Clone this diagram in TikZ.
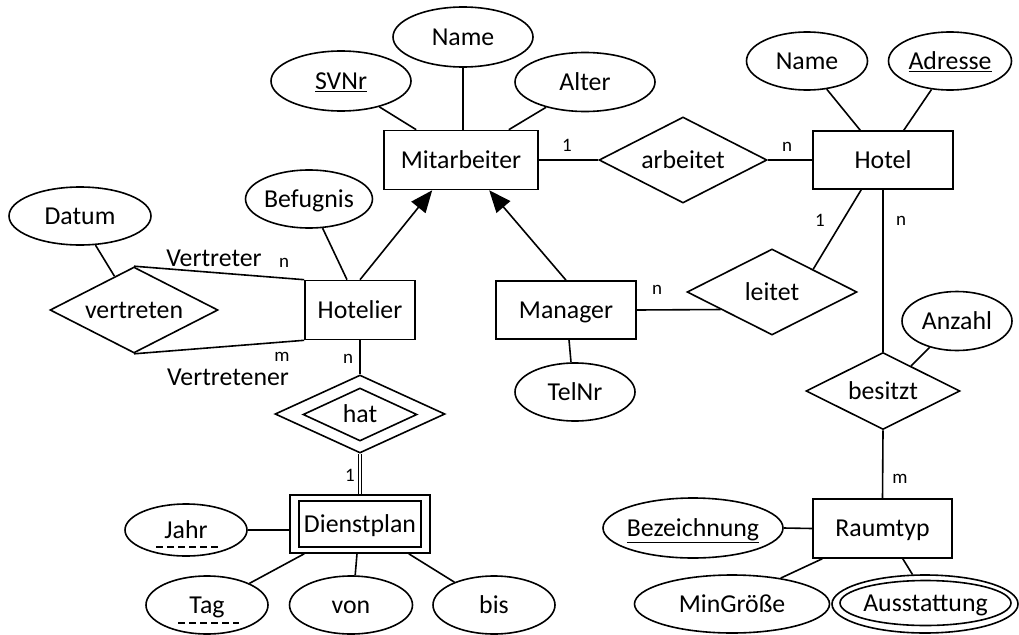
\documentclass[tikz,border=0pt]{standalone}
\usepackage{fontspec}
\setmainfont{Carlito}
\usetikzlibrary{shapes.geometric,arrows.meta,calc}
\begin{document}
\begin{tikzpicture}[x=1pt,y=-1pt,
  every node/.style={inner sep=0pt,font=\fontsize{25.8}{30}\selectfont},
  box/.style={text height=16.5pt,text depth=0pt},
  ent/.style={draw,rectangle,line width=1.6pt,box},
  attr/.style={draw,ellipse,line width=1.6pt,box},
  rel/.style={draw,diamond,aspect=2,line width=1.6pt,box},
  conn/.style={line width=1.6pt},
  isa/.style={line width=1.6pt,-{Triangle[length=22pt,width=18pt]}},
  card/.style={font=\fontsize{19}{22}\selectfont},
  dashul/.style={line width=1.4pt,dash pattern=on 7pt off 4pt}]
\useasboundingbox (0,0) rectangle (1019,634);

% entities
\node[ent,minimum width=154pt,minimum height=59pt] (mit) at (461,160) {Mitarbeiter};
\node[ent,minimum width=140pt,minimum height=58pt] (hotel) at (883,160) {Hotel};
\node[ent,minimum width=140pt,minimum height=58pt] (manager) at (566,310) {Manager};
\node[ent,minimum width=110pt,minimum height=59pt] (hotelier) at (360,310) {Hotelier};
\node[ent,minimum width=139pt,minimum height=59pt] (raum) at (882.5,528.5) {Raumtyp};
\node[ent,minimum width=140pt,minimum height=58pt] (dpout) at (360,524) {};
\node[ent,minimum width=122pt,minimum height=46pt] (dpin) at (360,524) {Dienstplan};

% relationships
\node[rel,minimum width=168pt,minimum height=86pt] (arb) at (683,160) {arbeitet};
\node[rel,minimum width=170pt,minimum height=86pt] (leitet) at (772,292) {leitet};
\node[rel,minimum width=154pt,minimum height=77pt] (bes) at (883,391) {besitzt};
\node[rel,minimum width=168pt,minimum height=86pt] (vert) at (134,310) {vertreten};
\node[rel,minimum width=170pt,minimum height=78pt] (hatout) at (360,414) {};
\node[rel,minimum width=114pt,minimum height=53pt] (hatin) at (360,414.5) {hat};

% attributes
\node[attr,minimum width=140pt,minimum height=60pt] (name1) at (463,37) {Name};
\node[attr,minimum width=140pt,minimum height=60pt] (svnr) at (341,81) {\underline{SVNr}};
\node[attr,minimum width=140pt,minimum height=59pt] (alter) at (585,82) {Alter};
\node[attr,minimum width=121pt,minimum height=58pt] (hname) at (807,61) {Name};
\node[attr,minimum width=123pt,minimum height=58pt] (adr) at (950,61) {\underline{Adresse}};
\node[attr,minimum width=110pt,minimum height=59pt] (anz) at (957,321) {Anzahl};
\node[attr,inner xsep=-4pt,minimum width=180pt,minimum height=60pt] (bez) at (693,528) {\underline{Bezeichnung}};
\node[attr,minimum width=195pt,minimum height=58pt] (ming) at (732,604) {MinGröße};
\node[attr,minimum width=186pt,minimum height=58pt] (ausout) at (925,604) {};
\node[attr,inner xsep=-3pt,minimum width=171pt,minimum height=45pt] (ausin) at (925.5,603) {Ausstattung};
\node[attr,minimum width=120pt,minimum height=58pt] (telnr) at (575,392) {TelNr};
\node[attr,minimum width=122pt,minimum height=58pt] (bef) at (309,199) {Befugnis};
\node[attr,minimum width=142pt,minimum height=58pt] (datum) at (80,216) {Datum};
\node[attr,minimum width=122pt,minimum height=52pt] (jahr) at (186,530) {Jahr};
\node[attr,minimum width=122pt,minimum height=58pt] (tag) at (207,605) {Tag};
\node[attr,minimum width=123pt,minimum height=58pt] (von) at (351,605) {von};
\node[attr,minimum width=122pt,minimum height=58pt] (bis) at (494,605) {bis};

% dashed (partial key) underlines
\draw[dashul] ($(jahr.center)+(-30,17)$) -- ++(62,0);
\draw[dashul] ($(tag.center)+(-29,18)$) -- ++(61,0);

% connectors
\draw[conn] (svnr.-34) -- ([xshift=33pt]mit.north west);
\draw[conn] (name1.south) -- (name1.south |- mit.north);
\draw[conn] (alter.-147) -- ([xshift=-30pt]mit.north east);
\draw[conn] (mit.east) -- (arb.west);
\draw[conn] (arb.east) -- (hotel.west);
\draw[conn] (hname.-55) -- ([xshift=48pt]hotel.north west);
\draw[conn] (adr.-123) -- ([xshift=-50pt]hotel.north east);
\draw[conn] ([xshift=49pt]hotel.south west) -- ($(leitet.north)!0.48!(leitet.east)$);
\draw[conn] (hotel.south) -- (bes.north);
\draw[conn] (anz.224) -- ($(bes.north)!0.36!(bes.east)$);
\draw[conn] (bes.south) -- (raum.north);
\draw[conn] (bez.east) -- (raum.west);
\draw[conn] (ming.28) -- ([xshift=10pt]raum.south west);
\draw[conn] (ausout.113) -- ([xshift=-50pt]raum.south east);
\draw[isa] (hotelier.north) -- ([xshift=49pt]mit.south west);
\draw[isa] (manager.north) -- ([xshift=106pt]mit.south west);
\draw[conn] (bef.-65) -- ([xshift=-13pt]hotelier.north);
\draw[conn] (datum.-62) -- ($(vert.west)!0.77!(vert.north)$);
\draw[conn] (vert.north) -- (hotelier.north west);
\draw[conn] (vert.south) -- (hotelier.south west);
\draw[conn] (hotelier.south) -- (hatout.north);
\draw[line width=1.2pt,double,double distance=2pt] (hatout.south) -- (dpout.north);
\draw[conn] (jahr.east) -- (jahr.east -| dpout.west);
\draw[conn] (tag.27) -- ([xshift=15pt]dpout.south west);
\draw[conn] ([xshift=-3pt]dpout.south) -- (von.82);
\draw[conn] ([xshift=-22pt]dpout.south east) -- (bis.150);
\draw[conn] (manager.east) -- ($(leitet.west)!0.4!(leitet.south)$);
\draw[conn] ([xshift=3pt]manager.south) -- ([xshift=-4pt]telnr.north);

% cardinalities and roles
\node[card] (c1) at (567,145) {1};
\node[card] (c2) at (787,147) {n};
\node[card] (c3) at (820,220) {1};
\node[card] (c4) at (901,221) {n};
\node[card] (c5) at (657,290) {n};
\node[card] (c6) at (900,479) {m};
\node[card] (c7) at (284,263) {n};
\node[card] (c8) at (282,357) {m};
\node[card] (c9) at (348,359) {n};
\node[card] (c10) at (350,475) {1};
\node (r1) at (214,258) {Vertreter};
\node (r2) at (228,377) {Vertretener};
\end{tikzpicture}
\end{document}
